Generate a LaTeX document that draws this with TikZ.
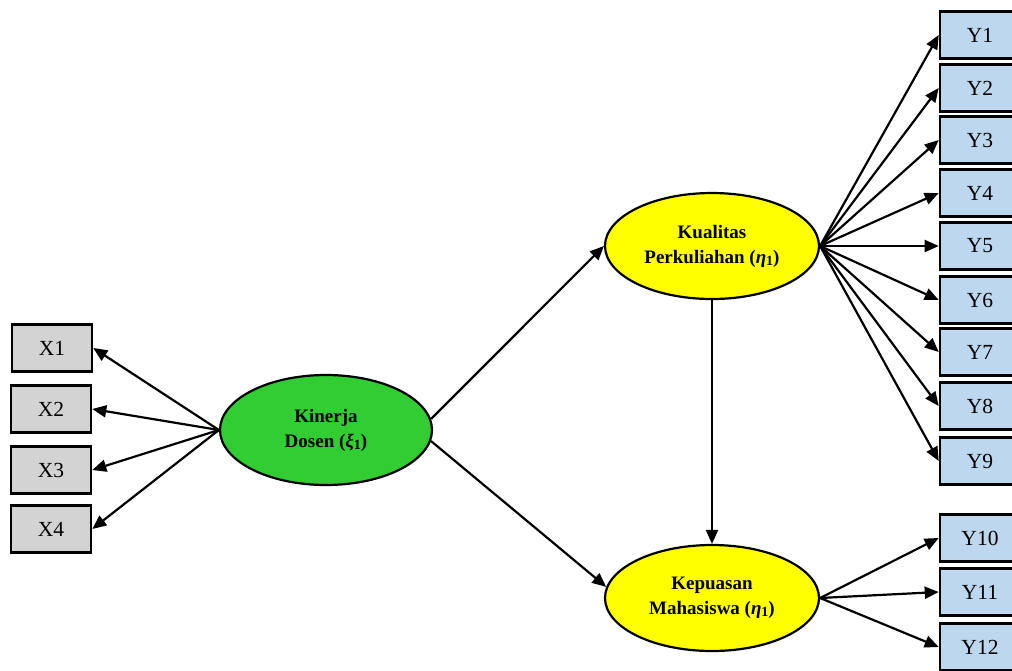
\documentclass[tikz,border=0pt]{standalone}
\usepackage{fontspec}
\setmainfont{Liberation Serif}
\usetikzlibrary{shapes.geometric,arrows.meta}
\definecolor{boxgray}{RGB}{211,211,211}
\definecolor{boxblue}{RGB}{189,215,238}
\definecolor{lvgreen}{RGB}{50,205,50}
\definecolor{lvyellow}{RGB}{255,255,0}
\newcommand{\mysub}[1]{\raisebox{-0.25ex}{\fontsize{14}{14}\selectfont #1}}
\tikzset{
  xbox/.style={draw=black, line width=2.6pt, fill=boxgray, minimum width=80pt, minimum height=47pt, inner sep=0pt, font=\fontsize{21.5}{23}\selectfont},
  ybox/.style={draw=black, line width=2.6pt, fill=boxblue, minimum width=80pt, minimum height=47pt, inner sep=0pt, font=\fontsize{21.5}{23}\selectfont},
  latent/.style={ellipse, draw=black, line width=2.2pt, inner sep=0pt, align=center, font=\bfseries\fontsize{19}{25}\selectfont},
  path/.style={line width=2.2pt, -{Triangle[length=14pt,width=12pt]}}
}
\begin{document}
\begin{tikzpicture}[x=1pt,y=-1pt]
\path[use as bounding box] (0,0) rectangle (1012,670);
\clip (0,0) rectangle (1012,670);
\fill[white] (0,0) rectangle (1012,670);
% indicator boxes X
\node[xbox] (x1) at (52,348) {X1};
\node[xbox] (x2) at (51,409) {X2};
\node[xbox] (x3) at (51,470) {X3};
\node[xbox] (x4) at (51,529) {X4};
% indicator boxes Y
\node[ybox] (y1) at (980,35) {Y1};
\node[ybox] (y2) at (980,88) {Y2};
\node[ybox] (y3) at (980,140) {Y3};
\node[ybox] (y4) at (980,193) {Y4};
\node[ybox] (y5) at (980,246) {Y5};
\node[ybox] (y6) at (980,300) {Y6};
\node[ybox] (y7) at (980,352) {Y7};
\node[ybox] (y8) at (980,406) {Y8};
\node[ybox] (y9) at (980,461) {Y9};
\node[ybox] (y10) at (980,538) {Y10};
\node[ybox] (y11) at (980,592) {Y11};
\node[ybox] (y12) at (980,647) {Y12};
% latent variables
\node[latent, fill=lvgreen, minimum width=212pt, minimum height=110pt] (kd) at (326,430) {Kinerja\\Dosen (\textit{ξ}\mysub{1})};
\node[latent, fill=lvyellow, minimum width=214pt, minimum height=106pt] (kq) at (712,246) {Kualitas\\Perkuliahan (\textit{η}\mysub{1})};
\node[latent, fill=lvyellow, minimum width=214pt, minimum height=106pt] (kp) at (712,598) {Kepuasan\\Mahasiswa (\textit{η}\mysub{1})};
% paths
\foreach \i in {1,2,3,4} \draw[path] (kd.west) -- (x\i.east);
\foreach \i in {1,...,9} \draw[path] (kq.east) -- (y\i.west);
\foreach \i in {10,11,12} \draw[path] (kp.east) -- (y\i.west);
\draw[path] (kd.6) -- (kq.west);
\draw[path] (kd.-6) -- (kp.174);
\draw[path] (kq.south) -- (kp.north);
\end{tikzpicture}
\end{document}
